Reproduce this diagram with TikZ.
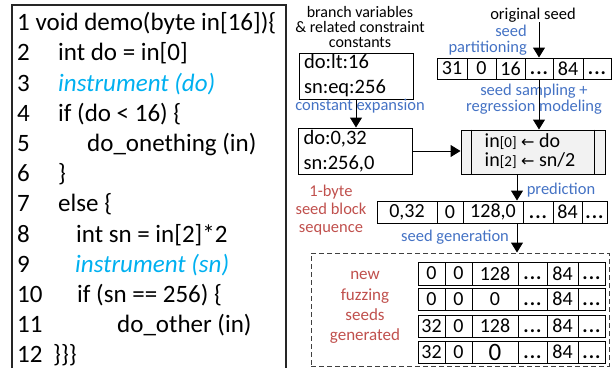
\documentclass[tikz,border=0pt]{standalone}
\usepackage{fontspec}
\setmainfont{Carlito}
\newfontfamily\arrowfont{DejaVu Sans}
\usetikzlibrary{arrows.meta}
\definecolor{labelblue}{HTML}{4472C4}
\definecolor{labelred}{HTML}{C0504D}
\definecolor{instr}{HTML}{00B0F0}
\definecolor{panelgray}{HTML}{F2F2F2}
\definecolor{dashgray}{HTML}{404040}
% three baseline dots in a cell, with the height of a digit so they sit on the
% same baseline as the numbers (kept out of \foreach lists, where ... means a range)
\newcommand{\ellip}{\vphantom{0}{\bfseries.\kern1pt.\kern1pt.}}

\tikzset{
  codeline/.style={anchor=base west, inner sep=0pt, font=\fontsize{25}{30}\selectfont},
  instrline/.style={codeline, text=instr, font=\fontsize{25}{30}\selectfont\itshape},
  arr/.style={-{Triangle[width=12pt,length=10pt]}, line width=1pt},
  constbox/.style={draw, line width=1pt, inner xsep=5pt, inner ysep=0pt, align=left,
    text width=104pt, minimum height=46pt, font=\fontsize{20.5}{25}\selectfont},
  cell/.style={draw, line width=1pt, inner sep=0pt, font=\fontsize{20}{20}\selectfont},
  bluelabel/.style={text=labelblue, inner sep=0pt, align=center, font=\fontsize{16.5}{16.5}\selectfont},
  redlabel/.style={text=labelred, inner sep=0pt, align=center, font=\fontsize{16.5}{18}\selectfont},
  plainlabel/.style={inner sep=0pt, align=center, font=\fontsize{16}{15}\selectfont},
}

\begin{document}
\begin{tikzpicture}[x=1pt, y=-1pt]
\useasboundingbox (0,0) rectangle (613,368);

% ---------- source listing ----------
\draw[line width=1.2pt, draw=black!85] (12,368) -- (12,5) -- (286,5) -- (286,368);

\node[codeline] (l1)  at (17,30.7)  {1 void demo(byte in[16])\{};
\node[codeline] (n2)  at (17,60.9)  {2};
\node[codeline] (l2)  at (58,60.9)  {int do = in[0]};
\node[codeline] (n3)  at (17,91.1)  {3};
\node[instrline] (l3) at (58,91.1)  {instrument (do)};
\node[codeline] (n4)  at (17,121.3) {4};
\node[codeline] (l4)  at (58,121.3) {if (do < 16) \{};
\node[codeline] (n5)  at (17,151.5) {5};
\node[codeline] (l5)  at (87,151.5) {do\_onething (in)};
\node[codeline] (n6)  at (17,181.7) {6};
\node[codeline] (l6)  at (58,181.7) {\}};
\node[codeline] (n7)  at (17,211.9) {7};
\node[codeline] (l7)  at (58,211.9) {else \{};
\node[codeline] (n8)  at (17,242.1) {8};
\node[codeline] (l8)  at (76,242.1) {int sn = in[2]*2};
\node[codeline] (n9)  at (17,272.3) {9};
\node[instrline] (l9) at (75,272.3) {instrument (sn)};
\node[codeline] (n10) at (17,302.5) {10};
\node[codeline] (l10) at (77,302.5) {if (sn == 256) \{};
\node[codeline] (n11) at (17,332.7) {11};
\node[codeline] (l11) at (117,332.7) {do\_other (in)};
\node[codeline] (n12) at (17,362.9) {12};
\node[codeline] (l12) at (53,362.9) {\}\}\}};

% ---------- constants ----------
\node[plainlabel] (brv) at (360,27) {branch variables\\\& related constraint\\constants};
\node[constbox] (cons) at (356,76) {do:lt:16\\sn:eq:256};
\node[bluelabel] (cexp) at (360,106) {constant expansion};
\node[constbox] (expd) at (355.5,151) {do:0,32\\sn:256,0};

% ---------- original seed ----------
\node[plainlabel, font=\fontsize{16.5}{16}\selectfont] (orig) at (533,15) {original seed};
\node[bluelabel, anchor=east, align=right, font=\fontsize{16.5}{16.5}\selectfont] (part) at (527,40) {seed\\partitioning};
\foreach \a/\b/\t [count=\i] in {437/467/31, 467/496/0, 496/525/16, 525/553/\ellip, 553/583/84, 583/611/\ellip}
  \node[cell, minimum width={(\b-\a)*1pt}, minimum height=21pt] (t\i) at ({(\a+\b)/2},68.5) {\t};
\node[bluelabel] (samp) at (534,99) {seed sampling +\\regression modeling};

% ---------- regression model ----------
\node[draw, line width=1pt, fill=panelgray, minimum width=144pt, minimum height=44pt,
      inner sep=0pt] (model) at (533,152) {};
\draw[line width=1pt] ([xshift=11pt]model.north west) -- ([xshift=11pt]model.south west);
\draw[line width=1pt] ([xshift=-11pt]model.north east) -- ([xshift=-11pt]model.south east);
\node[inner sep=0pt, align=left, font=\fontsize{20}{19.5}\selectfont] (rules) at (530,151)
  {in{\fontsize{15}{15}\selectfont[0]} {\arrowfont\fontsize{16}{16}\selectfont ←} do\\
   in{\fontsize{15}{15}\selectfont[2]} {\arrowfont\fontsize{16}{16}\selectfont ←} sn/2};

% ---------- predicted block sequence ----------
\node[redlabel] (blk) at (331,210) {1-byte\\seed block\\sequence};
\node[bluelabel] (pred) at (561,190) {prediction};
\foreach \a/\b/\t [count=\i] in {377/437/{0,32}, 437/463/0, 463/523/{128,0}, 523/553/\ellip, 553/582/84, 582/607/\ellip}
  \node[cell, minimum width={(\b-\a)*1pt}, minimum height=22pt] (s\i) at ({(\a+\b)/2},212) {\t};
\node[bluelabel] (sgen) at (455,237) {seed generation};

% ---------- generated seeds ----------
\node[draw=dashgray, line width=1pt, dash pattern=on 5pt off 3pt, minimum width=298pt,
      minimum height=113pt, inner sep=0pt] (newseeds) at (460,309.5) {};
\node[redlabel, font=\fontsize{17}{20.3}\selectfont] (newlab) at (365,307.5) {new\\fuzzing\\seeds\\generated};
\foreach \a/\b/\t [count=\i] in {418/445/0, 445/472/0, 472/518/128, 518/547/\ellip, 547/578/84, 578/605/\ellip}
  \node[cell, minimum width={(\b-\a)*1pt}, minimum height=23pt] (ra\i) at ({(\a+\b)/2},273.5) {\t};
\foreach \a/\b/\t [count=\i] in {418/445/0, 445/472/0, 472/518/0, 518/547/\ellip, 547/578/84, 578/605/\ellip}
  \node[cell, minimum width={(\b-\a)*1pt}, minimum height=22pt] (rb\i) at ({(\a+\b)/2},299) {\t};
\foreach \a/\b/\t [count=\i] in {418/445/32, 445/472/0, 472/518/128, 518/547/\ellip, 547/578/84, 578/605/\ellip}
  \node[cell, minimum width={(\b-\a)*1pt}, minimum height=22pt] (rc\i) at ({(\a+\b)/2},326) {\t};
\foreach \a/\b/\t [count=\i] in {418/445/32, 445/472/0, 472/518/{{\fontsize{25}{25}\selectfont 0}}, 518/547/\ellip, 547/578/84, 578/605/\ellip}
  \node[cell, minimum width={(\b-\a)*1pt}, minimum height=22pt] (rd\i) at ({(\a+\b)/2},352) {\t};

% ---------- connectors ----------
\coordinate (gencol) at ([xshift=-16pt]model.south);
\draw[arr] (orig.south -| t4.north) -- (t4.north);
\draw[arr] (t4.south) -- (model.north -| t4.south);
\draw[arr] (cons.south) -- (expd.north -| cons.south);
\draw[arr] (expd.east) -- (model.west |- expd.east);
\draw[arr] (gencol) -- (gencol |- s3.north);
\draw[arr] (gencol |- s3.south) -- (gencol |- newseeds.north);
\end{tikzpicture}
\end{document}
